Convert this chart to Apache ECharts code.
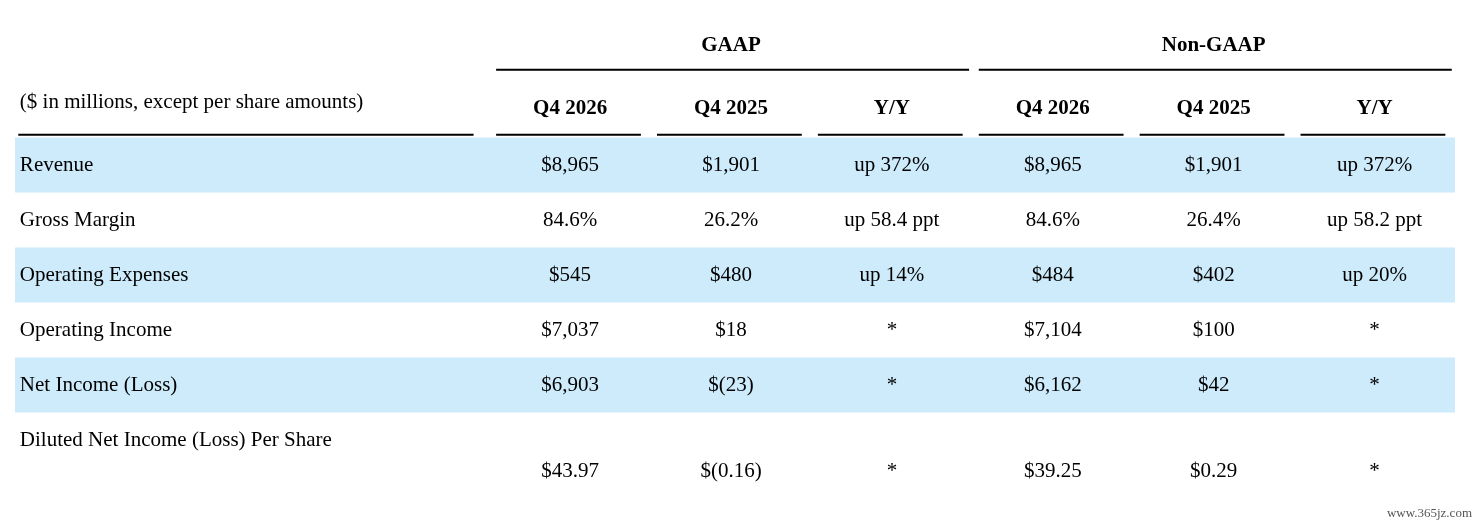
<!DOCTYPE html>
<html><head><meta charset="utf-8">
<script src="https://cdn.jsdelivr.net/npm/echarts@6/dist/echarts.min.js"></script>
<style>html,body{margin:0;background:#fff}#c{width:1482px;height:526px}</style>
</head><body><div id="c"></div>
<script>
// table content
var groups = ['GAAP', 'Non-GAAP'];
var columns = ['Q4 2026', 'Q4 2025', 'Y/Y', 'Q4 2026', 'Q4 2025', 'Y/Y'];
var unitNote = '($ in millions, except per share amounts)';
var rowLabels = ['Revenue', 'Gross Margin', 'Operating Expenses', 'Operating Income', 'Net Income (Loss)', 'Diluted Net Income (Loss) Per Share'];
var gaap2026 = ['$8,965', '84.6%', '$545', '$7,037', '$6,903', '$43.97'];
var gaap2025 = ['$1,901', '26.2%', '$480', '$18', '$(23)', '$(0.16)'];
var gaapYY = ['up 372%', 'up 58.4 ppt', 'up 14%', '*', '*', '*'];
var non2026 = ['$8,965', '84.6%', '$484', '$7,104', '$6,162', '$39.25'];
var non2025 = ['$1,901', '26.4%', '$402', '$100', '$42', '$0.29'];
var nonYY = ['up 372%', 'up 58.2 ppt', 'up 20%', '*', '*', '*'];
var valueCols = [gaap2026, gaap2025, gaapYY, non2026, non2025, nonYY];

var FONT = '"Liberation Serif", "Times New Roman", serif';
var BAND = '#cdebfb';

// build items in table units: x = column units (label col spans 0..3), y = row units
var items = [];
rowLabels.forEach(function (r, i) {
    var y = 3 + i;
    if (i % 2 === 0) items.push({ kind: 'band', x1: 0.05, x2: 9, y: y });
});
groups.forEach(function (g, i) {
    items.push({ kind: 'text', x: 4.5 + 3 * i, y: 0.82, text: g, bold: true, align: 'center' });
    items.push({ kind: 'line', x1: 3.04 + 3 * i, x2: 5.98 + 3 * i, y: 1.27 });
});
items.push({ kind: 'text', x: 0.08, y: 1.87, text: unitNote, align: 'left' });
items.push({ kind: 'line', x1: 0.07, x2: 2.9, y: 2.45 });
columns.forEach(function (c, j) {
    items.push({ kind: 'text', x: 3.5 + j, y: 1.98, text: c, bold: true, align: 'center' });
    items.push({ kind: 'line', x1: 3.04 + j, x2: 3.94 + j, y: 2.45 });
});
rowLabels.forEach(function (r, i) {
    var y = 3 + i;
    var last = i === rowLabels.length - 1;
    items.push({ kind: 'text', x: 0.08, y: y, text: r, align: 'left' });
    valueCols.forEach(function (col, j) {
        items.push({ kind: 'text', x: 3.5 + j, y: last ? y + 0.58 : y, text: col[i], align: 'center' });
    });
});

var chart = echarts.init(document.getElementById('c'));
chart.setOption({
    animation: false,
    grid: { left: 7, right: 27, top: 0, bottom: 0 },
    xAxis: { type: 'value', min: 0, max: 9, show: false },
    yAxis: { type: 'value', min: 0, max: 526 / 55, inverse: true, show: false },
    graphic: [{
        type: 'text', right: 10, bottom: 6,
        style: { text: 'www.365jz.com', fill: '#555', font: '13px ' + FONT }
    }],
    series: [{
        type: 'custom',
        data: items.map(function (d, i) { return [i]; }),
        renderItem: function (params, api) {
            var d = items[params.dataIndex];
            if (d.kind === 'band') {
                var a = api.coord([d.x1, d.y - 0.5]), b = api.coord([d.x2, d.y + 0.5]);
                return { type: 'rect', shape: { x: a[0], y: a[1], width: b[0] - a[0], height: b[1] - a[1] }, style: { fill: BAND } };
            }
            if (d.kind === 'line') {
                var p = api.coord([d.x1, d.y]), q = api.coord([d.x2, d.y]);
                return { type: 'line', shape: { x1: p[0], y1: p[1], x2: q[0], y2: q[1] }, style: { stroke: '#000', lineWidth: 2 } };
            }
            var c = api.coord([d.x, d.y]);
            return {
                type: 'text', x: c[0], y: c[1],
                style: {
                    text: d.text, fill: '#000', align: d.align, verticalAlign: 'middle',
                    font: (d.bold ? 'bold ' : '') + '21px ' + FONT
                }
            };
        }
    }]
});
</script>
</body></html>
